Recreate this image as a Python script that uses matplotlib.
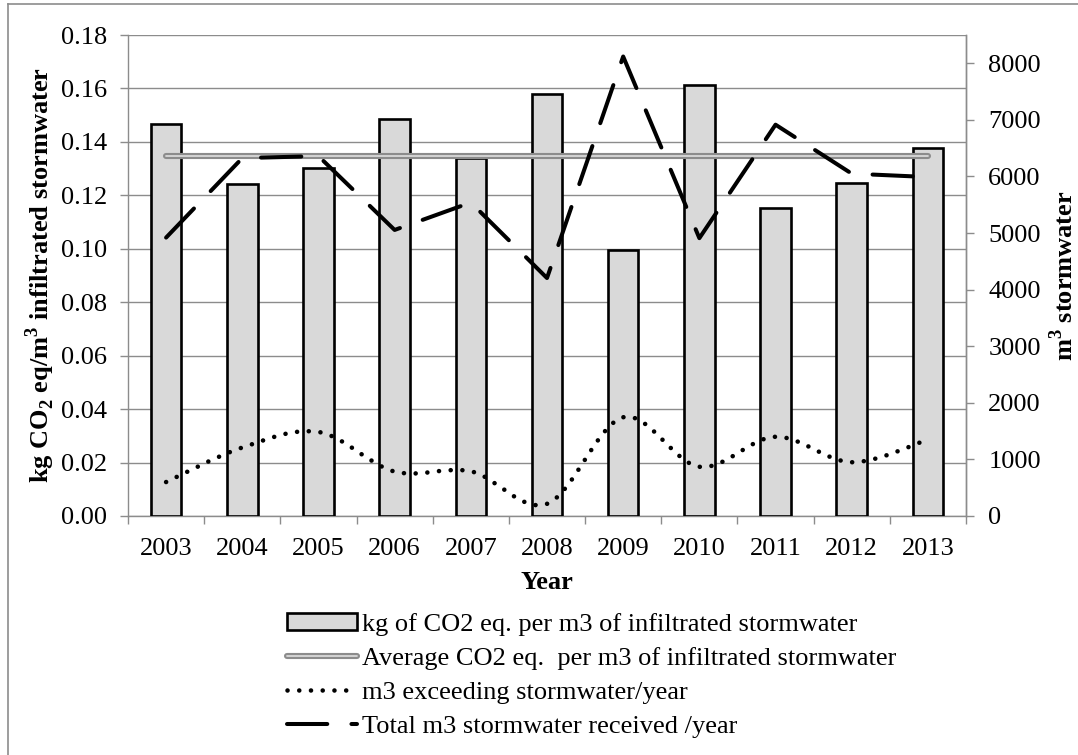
import matplotlib
matplotlib.use("Agg")
import matplotlib.pyplot as plt
import numpy as np
from matplotlib.path import Path
from matplotlib.patches import PathPatch
from matplotlib.lines import Line2D

plt.rcParams['font.family'] = ['Liberation Serif', 'DejaVu Serif']
plt.rcParams['mathtext.fontset'] = 'custom'
plt.rcParams['mathtext.rm'] = 'Liberation Serif'
plt.rcParams['mathtext.bf'] = 'Liberation Serif:bold'
plt.rcParams['font.size'] = 19

years = ['2003', '2004', '2005', '2006', '2007', '2008',
         '2009', '2010', '2011', '2012', '2013']
co2_per_m3 = [0.1467, 0.1243, 0.1304, 0.1486, 0.1339, 0.1578,
              0.0996, 0.1612, 0.1154, 0.1245, 0.1378]
exceeding_m3 = [600, 1210, 1485, 785, 790, 215,
                1745, 870, 1400, 950, 1350]
total_m3 = [4920, 6325, 6360, 5055, 5540, 4205,
            8120, 4910, 6915, 6050, 5990]

avg_co2 = np.mean(co2_per_m3)

W, H = 1078, 755
fig = plt.figure(figsize=(W / 100, H / 100), dpi=100)
ax = fig.add_axes([128 / W, 1 - 516 / H, (966 - 128) / W, (516 - 35) / H])
ax2 = ax.twinx()

grid_col = '#8c8c8c'
x = np.arange(len(years))

# bars on the left axis
bars = ax.bar(x, co2_per_m3, width=0.40, color='#d9d9d9',
              edgecolor='black', linewidth=1.9, zorder=3)

# average line (grey with a light core)
avg_outer, = ax.plot([x[0], x[-1]], [avg_co2, avg_co2], color='#8c8c8c',
                     lw=4.4, solid_capstyle='round', zorder=4)
avg_inner, = ax.plot([x[0], x[-1]], [avg_co2, avg_co2], color='#d9d9d9',
                     lw=1.3, solid_capstyle='round', zorder=4)

ax.set_xlim(-0.5, len(years) - 0.5)
ax.set_ylim(0, 0.18)
ax.set_yticks(np.arange(0, 0.181, 0.02))
ax.set_yticklabels([f'{v:.2f}' for v in np.arange(0, 0.181, 0.02)])
ax.set_xticks(x)
ax.set_xticklabels(years)
ax.set_xticks(np.arange(-0.5, len(years), 1.0), minor=True)
ax.tick_params(axis='x', which='major', length=0, pad=16)
ax.tick_params(axis='x', which='minor', length=6, color=grid_col, width=1)
ax.tick_params(axis='y', length=6, color=grid_col, width=1, pad=9)
ax.grid(axis='y', color=grid_col, lw=1.0, zorder=0)
ax.set_axisbelow(True)
for s in ax.spines.values():
    s.set_color(grid_col)
    s.set_linewidth(1.0)
ax.spines['top'].set_visible(False)
ax.set_xlabel('Year', fontweight='bold', labelpad=8)

# smoothed dotted line on the right axis (Bezier through the yearly points)
def smooth_path(xs, ys):
    pts = np.column_stack([xs, ys]).astype(float)
    n = len(pts)
    verts = [pts[0]]
    codes = [Path.MOVETO]
    for i in range(n - 1):
        p0 = pts[i - 1] if i > 0 else pts[i]
        p1 = pts[i]
        p2 = pts[i + 1]
        p3 = pts[i + 2] if i + 2 < n else pts[i + 1]
        c1 = p1 + (p2 - p0) / 6.0
        c2 = p2 - (p3 - p1) / 6.0
        verts += [c1, c2, p2]
        codes += [Path.CURVE4] * 3
    return Path(verts, codes)

dot_style = (0, (0.01, 2.55))
ax2.add_patch(PathPatch(smooth_path(x, exceeding_m3), fill=False,
                        edgecolor='black', lw=3.3, linestyle=dot_style,
                        capstyle='round', zorder=5))
dot_handle = Line2D([], [], color='black', lw=3.3, linestyle=dot_style,
                    dash_capstyle='round')

dash_style = (0, (10, 6))
total_line, = ax2.plot(x, total_m3, color='black', lw=2.9,
                       linestyle=dash_style, dash_capstyle='round',
                       solid_joinstyle='round', zorder=6)

ax2.set_ylim(0, 8500)
ax2.set_yticks(np.arange(0, 8001, 1000))
ax2.tick_params(axis='y', length=6, color=grid_col, width=1, pad=10)
for s in ax2.spines.values():
    s.set_color(grid_col)
    s.set_linewidth(1.0)
ax2.spines['top'].set_visible(False)
ax2.spines['left'].set_visible(False)
ax2.spines['bottom'].set_visible(False)

# axis titles
fig.text(40 / W, 1 - 275.5 / H,
         r'kg CO$_\mathbf{2}$ eq/m$^\mathbf{3}$ infiltrated stormwater',
         rotation=90, ha='center', va='center', fontweight='bold')
fig.text(1064 / W, 1 - 275.5 / H, r'm$^\mathbf{3}$ stormwater',
         rotation=90, ha='center', va='center', fontweight='bold')

leg = fig.legend([bars, (avg_outer, avg_inner), dot_handle, total_line],
                 ['kg of CO2 eq. per m3 of infiltrated stormwater',
                  'Average CO2 eq.  per m3 of infiltrated stormwater',
                  'm3 exceeding stormwater/year',
                  'Total m3 stormwater received /year'],
                 loc='upper left', bbox_to_anchor=(287 / W, 1 - 613 / H),
                 frameon=False, borderpad=0, borderaxespad=0,
                 handlelength=2.65, handletextpad=0.2, labelspacing=0.42,
                 handleheight=0.6)

# chart-area border
fig.add_artist(Line2D([8 / W, 8 / W], [0, 1 - 4 / H], color=grid_col, lw=1.2))
fig.add_artist(Line2D([8 / W, 1], [1 - 4 / H, 1 - 4 / H], color=grid_col, lw=1.2))

fig.savefig('out.png', dpi=100)
